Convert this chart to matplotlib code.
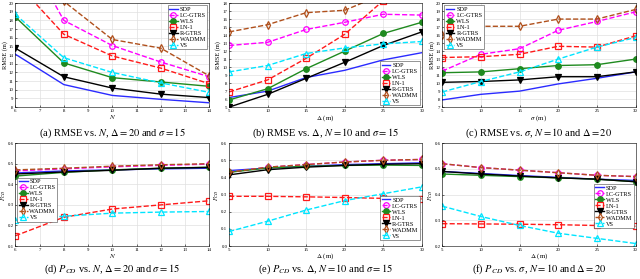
import matplotlib
matplotlib.use("Agg")
import matplotlib.pyplot as plt

plt.rcParams["font.family"] = ["Liberation Serif", "DejaVu Serif"]
plt.rcParams["mathtext.fontset"] = "stix"

# x values
N_vals = [6, 8, 10, 12, 14]
D_vals = [5, 10, 15, 20, 25, 30]
S_vals = [5, 10, 15, 20, 25, 30]

labels = ["SDP", "LC-GTRS", "WLS", "LN-1", "R-GTRS", "WADMM", "VS"]

# (a) RMSE vs N
rmse_N = {
    "SDP": [14.1, 10.6, 9.35, 8.9, 8.5],
    "LC-GTRS": [28.0, 18.0, 15.1, 13.2, 11.5],
    "WLS": [18.4, 13.1, 11.4, 10.9, 10.4],
    "LN-1": [22.5, 16.4, 13.9, 12.5, 10.7],
    "R-GTRS": [14.8, 11.5, 10.2, 9.5, 9.1],
    "WADMM": [25.0, 20.2, 15.8, 14.8, 11.6],
    "VS": [18.7, 13.7, 12.0, 10.8, 9.7],
}
# (b) RMSE vs Delta
rmse_D = {
    "SDP": [6.2, 7.0, 8.7, 9.6, 10.9, 11.8],
    "LC-GTRS": [12.7, 13.1, 14.7, 15.6, 16.6, 16.5],
    "WLS": [5.9, 7.3, 9.8, 12.0, 14.2, 15.6],
    "LN-1": [6.9, 8.4, 11.1, 14.1, 18.3, 21.0],
    "R-GTRS": [5.0, 6.6, 8.6, 10.6, 12.7, 14.4],
    "WADMM": [14.4, 15.3, 16.8, 17.1, 19.1, 20.0],
    "VS": [9.4, 10.2, 11.7, 12.4, 12.9, 13.2],
}
# (c) RMSE vs sigma
rmse_S = {
    "SDP": [7.9, 8.6, 9.0, 9.9, 10.6, 11.4],
    "LC-GTRS": [11.5, 13.6, 14.3, 16.6, 17.7, 18.9],
    "WLS": [11.3, 11.4, 11.8, 12.2, 12.3, 13.0],
    "LN-1": [13.2, 13.3, 13.6, 14.6, 14.5, 15.9],
    "R-GTRS": [10.1, 10.2, 10.4, 10.8, 10.8, 11.4],
    "WADMM": [16.0, 17.1, 17.1, 18.0, 18.0, 19.2],
    "VS": [8.9, 10.2, 11.4, 13.0, 14.5, 15.7],
}
# (d) P_CD vs N
pcd_N = {
    "SDP": [0.455, 0.465, 0.47, 0.475, 0.478],
    "LC-GTRS": [0.465, 0.475, 0.485, 0.492, 0.498],
    "WLS": [0.44, 0.458, 0.47, 0.478, 0.483],
    "LN-1": [0.15, 0.24, 0.28, 0.30, 0.32],
    "R-GTRS": [0.45, 0.46, 0.468, 0.478, 0.482],
    "WADMM": [0.47, 0.478, 0.488, 0.495, 0.50],
    "VS": [0.225, 0.245, 0.26, 0.265, 0.268],
}
# (e) P_CD vs Delta
pcd_D = {
    "SDP": [0.44, 0.455, 0.465, 0.475, 0.48, 0.485],
    "LC-GTRS": [0.43, 0.46, 0.475, 0.49, 0.50, 0.505],
    "WLS": [0.43, 0.455, 0.465, 0.47, 0.472, 0.47],
    "LN-1": [0.29, 0.29, 0.287, 0.283, 0.278, 0.275],
    "R-GTRS": [0.415, 0.445, 0.46, 0.47, 0.477, 0.48],
    "WADMM": [0.43, 0.46, 0.475, 0.49, 0.50, 0.505],
    "VS": [0.085, 0.145, 0.21, 0.265, 0.305, 0.345],
}
# (f) P_CD vs sigma
pcd_S = {
    "SDP": [0.49, 0.482, 0.474, 0.467, 0.46, 0.455],
    "LC-GTRS": [0.52, 0.505, 0.495, 0.485, 0.475, 0.47],
    "WLS": [0.48, 0.475, 0.47, 0.465, 0.46, 0.45],
    "LN-1": [0.287, 0.286, 0.285, 0.283, 0.28, 0.277],
    "R-GTRS": [0.49, 0.48, 0.472, 0.465, 0.46, 0.45],
    "WADMM": [0.52, 0.505, 0.495, 0.485, 0.475, 0.47],
    "VS": [0.355, 0.315, 0.28, 0.25, 0.23, 0.21],
}

styles = {
    "SDP": dict(color="#2b2bff", ls="-", marker=None),
    "LC-GTRS": dict(color="#ff00ff", ls="--", marker="o", mfc="none"),
    "WLS": dict(color="#1f8a1f", ls="-", marker="o", mfc="#1f8a1f"),
    "LN-1": dict(color="#ff1a1a", ls="--", marker="s", mfc="none"),
    "R-GTRS": dict(color="black", ls="-", marker="v", mfc="black"),
    "WADMM": dict(color="#b0501c", ls="--", marker="d", mfc="none"),
    "VS": dict(color="#00e5ff", ls="--", marker="^", mfc="none"),
}

fig = plt.figure(figsize=(6.4, 2.79), dpi=100)

top_b, top_h = 0.616, 0.373
bot_b, bot_h = 0.118, 0.369
cols = [(0.024, 0.303), (0.358, 0.301), (0.691, 0.302)]

panels = [
    (cols[0], top_b, top_h, N_vals, rmse_N, (6, 14), (8, 20), range(6, 15), range(8, 21),
     "$N$", "RMSE (m)", dict(loc="upper right"),
     r"(a) RMSE vs. $N$, $\Delta=20$ and $\sigma=15$"),
    (cols[1], top_b, top_h, D_vals, rmse_D, (5, 30), (5, 18), range(5, 31, 5), range(5, 19),
     r"$\Delta$ (m)", "RMSE (m)", dict(loc="lower right"),
     r"(b) RMSE vs. $\Delta$, $N=10$ and $\sigma=15$"),
    (cols[2], top_b, top_h, S_vals, rmse_S, (5, 30), (7, 20), range(5, 31, 5), range(7, 21),
     r"$\sigma$ (m)", "RMSE (m)", dict(loc="upper left"),
     r"(c) RMSE vs. $\sigma$, $N=10$ and $\Delta=20$"),
    (cols[0], bot_b, bot_h, N_vals, pcd_N, (6, 14), (0.1, 0.6), range(6, 15),
     [0.1, 0.2, 0.3, 0.4, 0.5, 0.6],
     "$N$", "$P_{CD}$", dict(loc="center left", bbox_to_anchor=(0, 0.45)),
     r"(d) $P_{CD}$ vs. $N$, $\Delta=20$ and $\sigma=15$"),
    (cols[1], bot_b, bot_h, D_vals, pcd_D, (5, 30), (0, 0.6), range(5, 31, 5),
     [0, 0.1, 0.2, 0.3, 0.4, 0.5, 0.6],
     r"$\Delta$ (m)", "$P_{CD}$", dict(loc="lower right", bbox_to_anchor=(1, 0.04)),
     r"(e) $P_{CD}$ vs. $\Delta$, $N=10$ and $\sigma=15$"),
    (cols[2], bot_b, bot_h, S_vals, pcd_S, (5, 30), (0.2, 0.6), range(5, 31, 5),
     [0.2, 0.3, 0.4, 0.5, 0.6],
     r"$\Delta$ (m)", "$P_{CD}$", dict(loc="center right", bbox_to_anchor=(1, 0.39)),
     r"(f) $P_{CD}$ vs. $\sigma$, $N=10$ and $\Delta=20$"),
]

for (left, width), b, h, xs, data, xl, yl, xt, yt, xlab, ylab, legkw, cap in panels:
    ax = fig.add_axes([left, b, width, h])
    for name in labels:
        st = styles[name]
        ax.plot(xs, data[name], color=st["color"], linestyle=st["ls"],
                marker=st["marker"], markerfacecolor=st.get("mfc", "none"),
                markersize=4, linewidth=1.0, markeredgewidth=0.9, label=name)
    ax.set_xlim(*xl)
    ax.set_ylim(*yl)
    ax.set_xticks(list(xt))
    ax.set_yticks(list(yt))
    ax.tick_params(labelsize=3.5, direction="in", length=1.5, width=0.4, pad=1.2)
    ax.grid(True, color="#e0e0e0", linewidth=0.5)
    for sp in ax.spines.values():
        sp.set_linewidth(0.4)
    ax.set_xlabel(xlab, fontsize=5, labelpad=0)
    ax.set_ylabel(ylab, fontsize=4.5)
    ax.yaxis.set_label_coords(-0.04, 0.5)
    leg = ax.legend(fontsize=4.5, labelspacing=0.1, handlelength=1.4,
                    handletextpad=0.3, borderpad=0.25, borderaxespad=0.3,
                    fancybox=False, framealpha=1, edgecolor="#444444", **legkw)
    leg.get_frame().set_linewidth(0.4)
    capy = 0.523 if b > 0.5 else 0.035
    fig.text(left + width / 2, capy, cap, ha="center", va="center", fontsize=7.5)

fig.savefig("out.png", dpi=100)
